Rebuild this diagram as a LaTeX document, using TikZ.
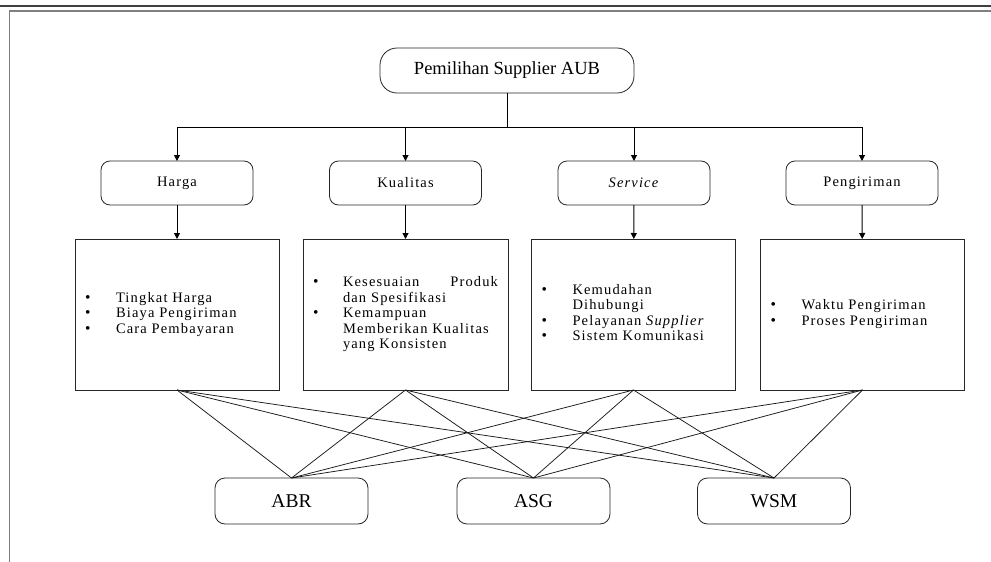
\documentclass[tikz,border=0pt]{standalone}
\usepackage{fontspec}
\setmainfont{Liberation Serif}
\newfontfamily\spc{Liberation Serif}[LetterSpace=8]
\usetikzlibrary{arrows.meta}
\newcommand\bul{\smash{\fontsize{15.5}{15}\selectfont\textbullet}}
\begin{document}
\begin{tikzpicture}[x=1pt,y=-1pt,
  every node/.style={inner sep=0pt, outer sep=0pt},
  ttl/.style={draw=black!85, line width=0.8pt, rounded corners=17pt, minimum width=254pt, minimum height=45pt, font=\fontsize{18.5}{22}\selectfont},
  cat/.style={draw=black!85, line width=0.8pt, rounded corners=9pt, minimum width=152pt, minimum height=44pt, font=\spc\fontsize{14.5}{15.5}\selectfont},
  det/.style={draw=black!85, line width=0.8pt, minimum width=204pt, minimum height=151pt, inner xsep=10pt, font=\spc\fontsize{14.5}{15.5}\selectfont},
  alt/.style={draw=black!85, line width=0.8pt, rounded corners=10pt, minimum width=153pt, minimum height=46pt, font=\fontsize{19.5}{22}\selectfont},
  arr/.style={-{Triangle[length=6pt,width=6pt]}, line width=1pt},
  bus/.style={line width=1pt},
  link/.style={line width=0.75pt, black!90}
]
\useasboundingbox (0,0) rectangle (991,562);
% frame
\coordinate (fa) at (0,6);
\coordinate (fb) at (991,6);
\coordinate (fc) at (9.5,11);
\coordinate (fd) at (991,11);
\coordinate (fe) at (9.5,562);
\draw[line width=2pt, black!75] (fa) -- (fb);
\draw[line width=1.4pt, black!50] (fd) -- (fc) -- (fe);

% title
\node[ttl] (title) at (507,70.5) {Pemilihan Supplier AUB};
\coordinate (busc) at (507,127);

% categories
\node[cat] (harga) at (177,183) {Harga};
\node[cat] (kual) at (405.5,183) {Kualitas};
\node[cat] (serv) at (634,183) {\textit{Service}};
\node[cat] (peng) at (862,183) {Pengiriman};

% details
\node[det] (dh) at (177,314.5) {\begin{tabular}{@{}p{31pt}@{}p{153pt}@{}}
\bul & Tingkat Harga\\
\bul & Biaya Pengiriman\\
\bul & Cara Pembayaran
\end{tabular}};
\node[det] (dk) at (405.5,314.5) {\begin{tabular}{@{}p{30pt}@{}p{155pt}@{}}
\bul & Kesesuaian\hfill Produk\\
 & dan Spesifikasi\\
\bul & Kemampuan\\
 & Memberikan Kualitas\\
 & yang Konsisten
\end{tabular}};
\node[det] (ds) at (633.5,314.5) {\begin{tabular}{@{}p{31pt}@{}p{153pt}@{}}
\bul & Kemudahan\\
 & Dihubungi\\
\bul & Pelayanan \textit{Supplier}\\
\bul & Sistem Komunikasi
\end{tabular}};
\node[det] (dp) at (862.5,314.5) {\begin{tabular}{@{}p{31pt}@{}p{153pt}@{}}
\bul & Waktu Pengiriman\\
\bul & Proses Pengiriman
\end{tabular}};

% alternatives
\node[alt] (abr) at (291.5,501) {ABR};
\node[alt] (asg) at (533.5,501) {ASG};
\node[alt] (wsm) at (774,501) {WSM};

% tree connectors
\draw[bus] (title.south) -- (busc);
\draw[bus] (harga.north |- busc) -- (peng.north |- busc);
\foreach \c in {harga,kual,serv,peng}
  \draw[arr] (\c.north |- busc) -- (\c.north);
\draw[arr] (harga) -- (dh);
\draw[arr] (kual) -- (dk);
\draw[arr] (serv) -- (ds);
\draw[arr] (peng) -- (dp);

% bipartite links
\foreach \d in {dh,dk,ds,dp}
  \foreach \a in {abr,asg,wsm}
    \draw[link] (\d.south) -- (\a.north);
\end{tikzpicture}
\end{document}
